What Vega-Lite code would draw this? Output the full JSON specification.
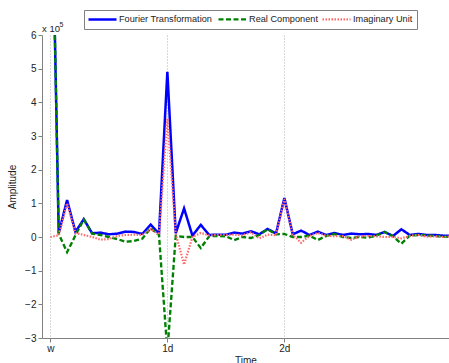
{
  "$schema": "https://vega.github.io/schema/vega-lite/v6.json",
  "width": 407,
  "height": 303,
  "autosize": "none",
  "padding": {"left": 42, "top": 35, "right": 0, "bottom": 25},
  "config": {
    "font": "Liberation Sans",
    "view": {"stroke": null},
    "axis": {"labelFont": "Liberation Sans", "titleFont": "Liberation Sans"},
    "axisY": {"labelOverlap": false, "labelFlush": false, "labelBound": false, "grid": false,
      "domainColor": "#808080", "tickColor": "#808080", "tickSize": 4,
      "labelFontSize": 10, "labelColor": "#222", "labelPadding": 2,
      "titleFontSize": 10, "titleFontWeight": "normal", "titleColor": "#222", "titlePadding": 7}
  },
  "encoding": {
    "x": {"field": "i", "type": "quantitative",
      "scale": {"domain": [-1, 47.7], "nice": false, "zero": false},
      "axis": {"title": "Time", "values": [0, 14, 28],
        "labelExpr": "datum.value == 0 ? 'w' : datum.value == 14 ? '1d' : '2d'",
        "grid": true, "gridColor": "#b0b0b0", "gridDash": [1, 2], "gridWidth": 1,
        "domainColor": "#808080", "tickColor": "#808080", "tickSize": 4,
        "labelFontSize": 10, "labelColor": "#222", "labelPadding": 1,
        "titleFontSize": 10, "titleFontWeight": "normal", "titleColor": "#222", "titlePadding": 2}
    },
    "y": {"field": "v", "type": "quantitative",
      "scale": {"domain": [-3, 6], "nice": false, "zero": false},
      "axis": {"title": "Amplitude", "values": [-3, -2, -1, 0, 1, 2, 3, 4, 5, 6], "labelOverlap": false}}
  },
  "layer": [
    {
      "data": {"values": [
        {"i":0,"F":12.9,"R":12.9,"I":0},
        {"i":1,"F":0.11,"R":0.09,"I":0.05},
        {"i":2,"F":1.1,"R":-0.45,"I":1.0},
        {"i":3,"F":0.15,"R":0.05,"I":0.12},
        {"i":4,"F":0.53,"R":0.52,"I":0.06},
        {"i":5,"F":0.11,"R":0.1,"I":0.0},
        {"i":6,"F":0.13,"R":0.06,"I":-0.08},
        {"i":7,"F":0.08,"R":0.0,"I":-0.06},
        {"i":8,"F":0.1,"R":-0.06,"I":0.03},
        {"i":9,"F":0.16,"R":-0.14,"I":0.06},
        {"i":10,"F":0.15,"R":-0.12,"I":0.07},
        {"i":11,"F":0.09,"R":-0.05,"I":0.06},
        {"i":12,"F":0.37,"R":0.26,"I":0.24},
        {"i":13,"F":0.1,"R":0.06,"I":0.07},
        {"i":14,"F":4.91,"R":-3.42,"I":3.52},
        {"i":15,"F":0.11,"R":0.03,"I":0.1},
        {"i":16,"F":0.85,"R":0.0,"I":-0.82},
        {"i":17,"F":0.04,"R":0.0,"I":0.0},
        {"i":18,"F":0.36,"R":-0.33,"I":0.12},
        {"i":19,"F":0.06,"R":0.02,"I":0.05},
        {"i":20,"F":0.07,"R":0.03,"I":0.06},
        {"i":21,"F":0.07,"R":0.02,"I":0.06},
        {"i":22,"F":0.13,"R":-0.09,"I":0.07},
        {"i":23,"F":0.1,"R":0.0,"I":0.05},
        {"i":24,"F":0.17,"R":-0.03,"I":0.14},
        {"i":25,"F":0.08,"R":0.06,"I":-0.04},
        {"i":26,"F":0.24,"R":0.23,"I":0.07},
        {"i":27,"F":0.1,"R":0.08,"I":0.05},
        {"i":28,"F":1.16,"R":0.09,"I":1.13},
        {"i":29,"F":0.08,"R":0.0,"I":0.07},
        {"i":30,"F":0.19,"R":0.0,"I":-0.17},
        {"i":31,"F":0.06,"R":0.04,"I":0.03},
        {"i":32,"F":0.16,"R":-0.09,"I":0.12},
        {"i":33,"F":0.06,"R":0.03,"I":0.04},
        {"i":34,"F":0.12,"R":0.09,"I":0.02},
        {"i":35,"F":0.06,"R":0.0,"I":0.03},
        {"i":36,"F":0.1,"R":-0.03,"I":-0.08},
        {"i":37,"F":0.08,"R":0.0,"I":0.02},
        {"i":38,"F":0.09,"R":-0.02,"I":0.03},
        {"i":39,"F":0.06,"R":0.04,"I":0.02},
        {"i":40,"F":0.15,"R":0.15,"I":0.0},
        {"i":41,"F":0.03,"R":0.02,"I":0.0},
        {"i":42,"F":0.23,"R":-0.2,"I":-0.04},
        {"i":43,"F":0.06,"R":0.04,"I":0.03},
        {"i":44,"F":0.09,"R":0.06,"I":0.06},
        {"i":45,"F":0.06,"R":0.05,"I":0.01},
        {"i":46,"F":0.06,"R":0.03,"I":0.02},
        {"i":47,"F":0.04,"R":0.01,"I":0.0},
        {"i":48,"F":0.04,"R":0.0,"I":0.02}
      ]},
      "transform": [
        {"fold": ["F", "R", "I"], "as": ["s", "v"]},
        {"lookup": "s", "from": {"data": {"values": [
          {"s": "F", "name": "Fourier Transformation"},
          {"s": "R", "name": "Real Component"},
          {"s": "I", "name": "Imaginary Unit"}
        ]}, "key": "s", "fields": ["name"]}}
      ],
      "mark": {"type": "line", "clip": true},
      "encoding": {
        "color": {"field": "name", "type": "nominal", "title": null,
          "sort": ["Fourier Transformation", "Real Component", "Imaginary Unit"],
          "scale": {"domain": ["Fourier Transformation", "Real Component", "Imaginary Unit"], "range": ["#0000ff", "#008000", "#ff6a6a"]},
          "legend": {"title": null, "orient": "none", "legendX": 42, "legendY": -25, "direction": "horizontal", "columns": 3,
            "strokeColor": "#808080", "padding": 4, "columnPadding": 0, "labelOffset": 21,
            "symbolType": "M-1.286,0H6.714", "symbolSize": 49, "symbolStrokeWidth": 2,
            "labelFont": "Liberation Sans", "labelFontSize": 9.2, "labelColor": "#222"}},
        "strokeDash": {"field": "name", "type": "nominal", "title": null,
          "sort": ["Fourier Transformation", "Real Component", "Imaginary Unit"],
          "scale": {"domain": ["Fourier Transformation", "Real Component", "Imaginary Unit"], "range": [[1, 0], [5, 2.5], [1.5, 1.5]]},
          "legend": {"title": null, "orient": "none", "legendX": 42, "legendY": -25, "direction": "horizontal", "columns": 3,
            "strokeColor": "#808080", "padding": 4, "columnPadding": 0, "labelOffset": 21,
            "symbolType": "M-1.286,0H6.714", "symbolSize": 49, "symbolStrokeWidth": 2,
            "labelFont": "Liberation Sans", "labelFontSize": 9.2, "labelColor": "#222"}},
        "strokeWidth": {"field": "name", "type": "nominal", "legend": null,
          "scale": {"domain": ["Fourier Transformation", "Real Component", "Imaginary Unit"], "range": [2.5, 2.2, 1.2]}}
      }
    },
    {
      "data": {"values": [{"label": "x 10", "i": -1, "v": 6}]},
      "mark": {"type": "text", "align": "left", "baseline": "alphabetic", "dy": -3, "fontSize": 9.5, "font": "Liberation Sans", "color": "#222"},
      "encoding": {
        "text": {"field": "label"}
      }
    },
    {
      "data": {"values": [{"label": "5", "i": -1, "v": 6}]},
      "mark": {"type": "text", "align": "left", "baseline": "alphabetic", "dx": 17.5, "dy": -8, "fontSize": 7, "font": "Liberation Sans", "color": "#222"},
      "encoding": {
        "text": {"field": "label"}
      }
    }
  ]
}
